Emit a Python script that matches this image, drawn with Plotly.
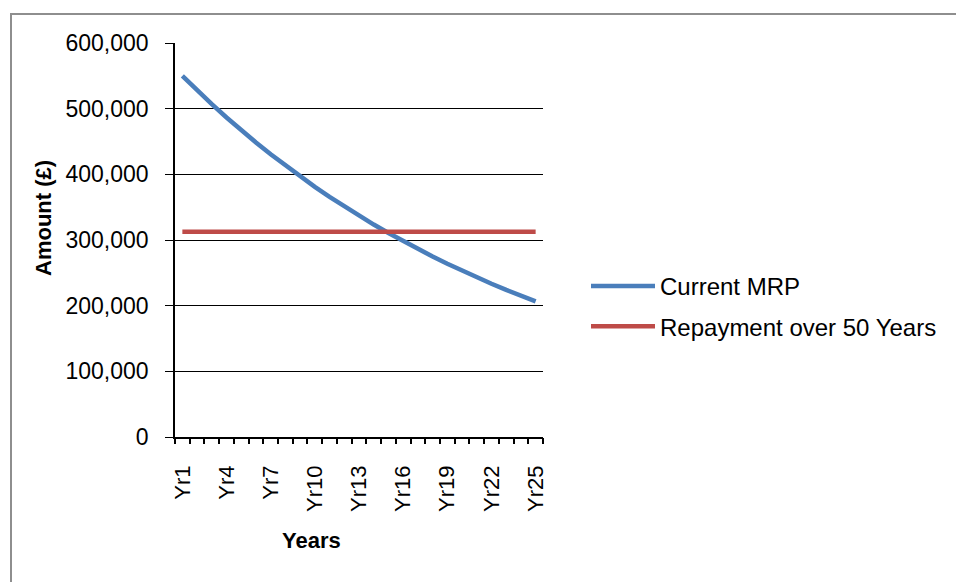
import plotly.graph_objects as go

years = ["Yr%d" % i for i in range(1, 26)]
tick_labels = ["Yr1", "Yr4", "Yr7", "Yr10", "Yr13", "Yr16", "Yr19", "Yr22", "Yr25"]

current_mrp = [550000, 528000, 506900, 486600, 467100, 448500, 430500, 413300,
               396800, 380900, 365700, 351000, 337000, 323500, 310600, 298100,
               286200, 274800, 263800, 253200, 243100, 233400, 224000, 215100,
               206500]
repayment_50 = [312500, 312500, 312500, 312500, 312500, 312500, 312500, 312500,
                312500, 312500, 312500, 312500, 312500, 312500, 312500, 312500,
                312500, 312500, 312500, 312500, 312500, 312500, 312500, 312500,
                312500]

series_names = ["Current MRP", "Repayment over 50 Years"]
colors = ["#4A7EBB", "#BE4B48"]

W, H = 956, 582
L, R, T, B = 175, 413, 43, 145
PW, PH = W - L - R, H - T - B

def px_x(p):
    return (p - L) / PW

def px_y(p):
    return (H - B - p) / PH

FONT = "Liberation Sans"

fig = go.Figure()
fig.add_trace(go.Scatter(x=years, y=current_mrp, mode="lines", name=series_names[0],
                         legendgroup="a",
                         line=dict(color=colors[0], width=4.5)))
fig.add_trace(go.Scatter(x=years, y=repayment_50, mode="lines", name=series_names[1],
                         legendgroup="b",
                         line=dict(color=colors[1], width=4.5)))
# helper trace to activate the boundary-tick axis
fig.add_trace(go.Scatter(x=[], y=[], xaxis="x2", showlegend=False, hoverinfo="skip"))

n = len(years)
fig.update_layout(
    width=W, height=H,
    margin=dict(l=L, r=R, t=T, b=B, pad=0),
    paper_bgcolor="white", plot_bgcolor="white",
    font=dict(family=FONT, color="black", size=22),
    showlegend=True,
    legend=dict(x=px_x(586), y=px_y(264), xanchor="left", yanchor="top",
                font=dict(size=24, color="black"), itemwidth=64,
                tracegroupgap=6, bgcolor="rgba(0,0,0,0)"),
    xaxis=dict(type="category", categoryorder="array", categoryarray=years,
               range=[-0.5, n - 0.5], tickmode="array", tickvals=tick_labels,
               ticktext=tick_labels, tickangle=-90, ticks="",
               showgrid=False, showline=True, linecolor="black", linewidth=1.5,
               zeroline=False, tickfont=dict(size=22, color="black"),
               ticklabelstandoff=18),
    xaxis2=dict(overlaying="x", anchor="y", side="bottom", range=[-0.5, n - 0.5],
                tickmode="array", tickvals=[i - 0.5 for i in range(n + 1)],
                ticks="outside", ticklen=6, tickwidth=1.5, tickcolor="black",
                showticklabels=False, showgrid=False, showline=False, zeroline=False),
    yaxis=dict(range=[0, 600000], dtick=100000, tickformat=",", showgrid=True,
               gridcolor="black", gridwidth=1, ticks="outside", ticklen=8,
               tickcolor="black", tickwidth=1, showline=True, linecolor="black",
               linewidth=1.5, zeroline=False, tickfont=dict(size=23, color="black"),
               ticklabelstandoff=12),
    annotations=[
        dict(text="<b>Amount (£)</b>", xref="paper", yref="paper",
             x=px_x(43), y=px_y(218), textangle=-90, showarrow=False,
             font=dict(size=22, color="black"), xanchor="center", yanchor="middle"),
        dict(text="<b>Years</b>", xref="paper", yref="paper",
             x=px_x(311), y=px_y(540), showarrow=False,
             font=dict(size=22, color="black"), xanchor="center", yanchor="middle"),
    ],
    shapes=[
        dict(type="line", xref="paper", yref="paper",
             x0=px_x(10), y0=px_y(14), x1=px_x(956), y1=px_y(14),
             line=dict(color="#8E8E8E", width=2), layer="below"),
        dict(type="line", xref="paper", yref="paper",
             x0=px_x(11), y0=px_y(13), x1=px_x(11), y1=px_y(582),
             line=dict(color="#8E8E8E", width=2), layer="below"),
    ],
)

fig.write_html("out.html")
